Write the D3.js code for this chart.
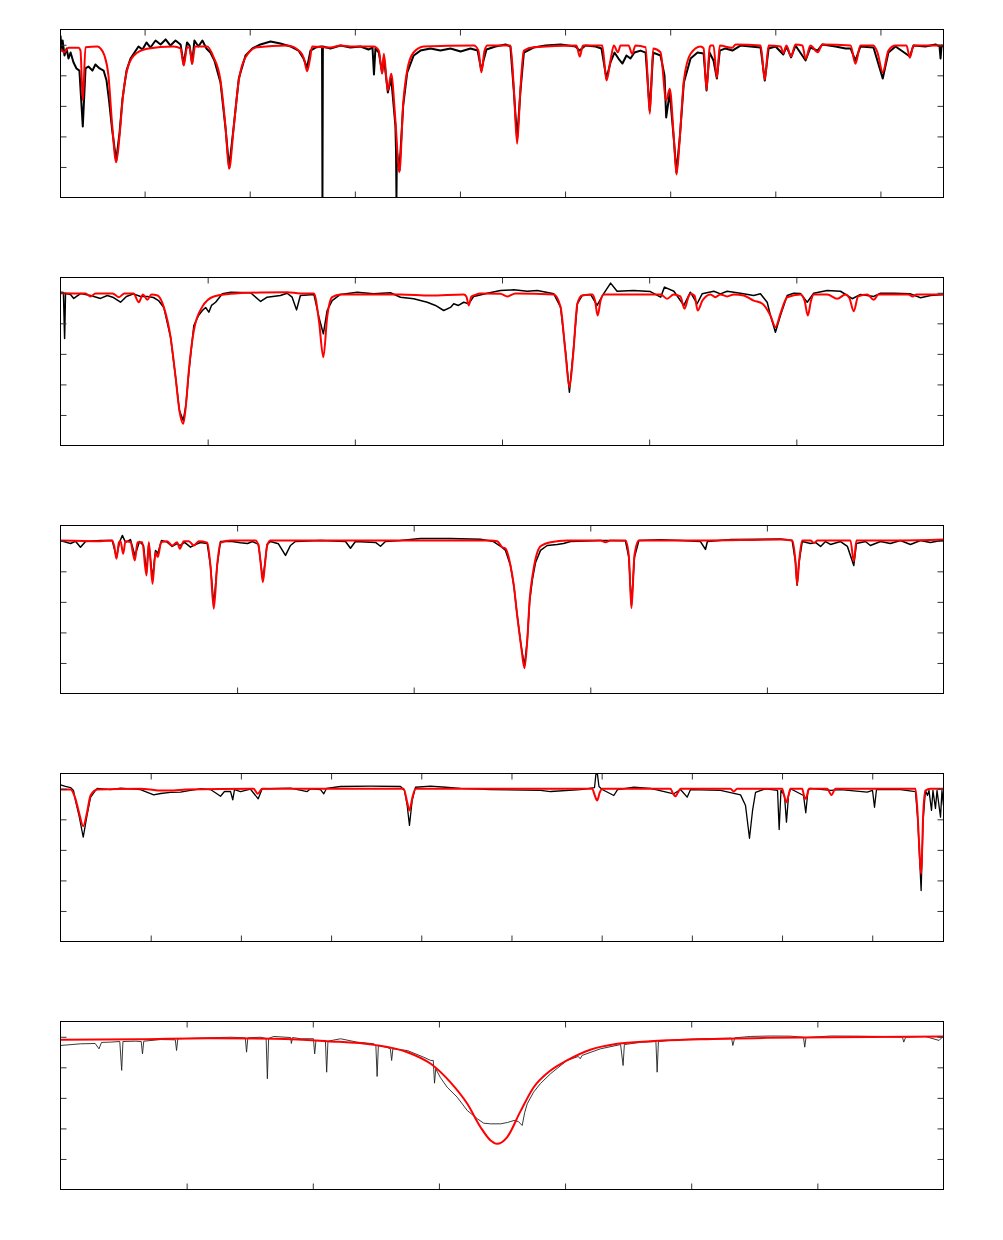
<!DOCTYPE html>
<html>
<head>
<meta charset="utf-8">
<script src="https://cdn.jsdelivr.net/npm/d3@7"></script>
<style>
  body { margin: 0; background: #fff; }
</style>
</head>
<body>
<div id="chart"></div>
<script>
//*** données : spectre observé (noir) et modèle (rouge), [longueur d'onde, flux normalisé] ***/

// panneau 1
const obs1 = [[3810.0,1.061],[3810.5,0.962],[3811.0,1.028],[3811.9,0.930],[3812.9,0.976],[3813.8,0.910],[3814.8,0.949],[3816.2,0.884],[3817.6,0.845],[3819.0,0.831],[3820.6,0.465],[3821.9,0.845],[3823.3,0.858],[3825.2,0.831],[3826.6,0.871],[3828.6,0.845],[3830.5,0.831],[3831.9,0.766],[3833.1,0.635],[3834.6,0.439],[3836.5,0.242],[3838.1,0.426],[3839.5,0.648],[3841.4,0.831],[3843.3,0.910],[3845.2,0.949],[3847.1,0.989],[3849.0,0.969],[3850.9,1.015],[3852.8,0.982],[3855.2,1.028],[3857.6,1.002],[3860.0,1.035],[3862.3,0.995],[3864.7,1.028],[3867.1,1.002],[3868.6,0.871],[3870.2,1.015],[3871.4,0.995],[3872.6,0.877],[3873.7,1.028],[3875.6,0.989],[3877.5,1.028],[3879.4,0.976],[3881.3,0.949],[3883.2,0.897],[3886.1,0.753],[3888.5,0.452],[3890.2,0.196],[3892.4,0.465],[3894.8,0.779],[3898.0,0.930],[3901.3,0.976],[3905.1,1.002],[3909.9,1.021],[3914.6,1.008],[3919.4,0.989],[3923.2,0.962],[3925.6,0.910],[3927.3,0.851],[3928.9,0.962],[3931.3,0.982],[3933.7,0.989],[3934.4,0.989],[3934.6,0.0],[3934.8,0.989],[3938.4,0.976],[3943.2,0.995],[3947.9,0.982],[3952.7,0.989],[3956.5,0.969],[3958.4,0.982],[3959.1,0.805],[3959.8,0.976],[3961.4,0.949],[3963.0,0.818],[3963.8,0.917],[3965.7,0.688],[3967.3,0.779],[3969.3,0.471],[3969.6,0.3],[3969.8,0.0],[3970.0,0.3],[3971.2,0.177],[3973.0,0.602],[3974.9,0.818],[3978.0,0.930],[3981.2,0.962],[3986.0,0.976],[3990.7,0.962],[3995.5,0.976],[4000.3,0.956],[4005.0,0.976],[4008.4,0.962],[4010.2,0.831],[4011.2,0.897],[4012.6,0.969],[4016.9,0.989],[4021.7,1.002],[4024.0,0.989],[4025.6,0.701],[4027.2,0.386],[4028.8,0.701],[4030.4,0.949],[4035.0,0.982],[4040.7,0.995],[4047.9,1.002],[4055.0,0.989],[4056.9,0.962],[4059.7,0.995],[4064.5,0.989],[4067.3,0.976],[4069.7,0.779],[4071.6,0.884],[4073.5,0.949],[4075.4,0.910],[4077.3,0.877],[4079.2,0.930],[4081.1,0.910],[4083.0,0.949],[4085.9,0.962],[4088.3,0.949],[4090.3,0.569],[4091.9,0.949],[4095.4,0.930],[4097.3,0.799],[4098.1,0.524],[4099.8,0.688],[4101.7,0.386],[4103.0,0.164],[4104.6,0.399],[4106.5,0.753],[4109.7,0.910],[4113.0,0.949],[4115.9,0.943],[4117.3,0.701],[4118.7,0.949],[4120.6,0.897],[4122.2,0.779],[4123.6,0.962],[4126.3,0.976],[4129.6,0.962],[4133.4,0.995],[4138.2,0.989],[4143.0,0.982],[4145.0,0.766],[4146.8,0.976],[4150.1,0.989],[4153.8,0.936],[4155.3,0.989],[4157.5,0.917],[4159.6,0.995],[4164.4,0.897],[4166.7,0.982],[4170.1,0.962],[4172.4,1.002],[4178.6,0.989],[4183.4,0.976],[4185.8,0.976],[4188.1,0.897],[4190.5,0.989],[4196.7,0.982],[4201.1,0.779],[4203.8,0.949],[4207.2,0.989],[4214.0,0.923],[4215.7,0.995],[4221.4,0.989],[4226.2,1.002],[4228.1,0.989],[4228.6,0.910],[4229.1,0.995],[4230.0,0.989]];
const mod1 = [[3810.0,0.974],[3811.9,0.951],[3813.8,0.980],[3818.6,0.980],[3819.5,0.962],[3820.6,0.635],[3821.9,0.984],[3827.6,0.989],[3829.0,0.976],[3830.9,0.930],[3832.8,0.799],[3834.6,0.471],[3836.5,0.231],[3838.1,0.406],[3839.5,0.635],[3841.4,0.818],[3844.9,0.930],[3851.2,0.974],[3863.7,0.989],[3867.1,0.976],[3868.6,0.864],[3870.2,0.982],[3871.4,0.982],[3872.6,0.875],[3874.0,0.989],[3879.8,0.989],[3882.8,0.919],[3886.1,0.766],[3888.5,0.460],[3890.2,0.188],[3892.4,0.460],[3894.8,0.766],[3898.0,0.919],[3903.6,0.984],[3917.8,0.995],[3924.2,0.951],[3925.8,0.910],[3927.3,0.827],[3928.7,0.910],[3929.7,0.989],[3938.4,0.982],[3943.2,0.995],[3947.9,0.989],[3959.0,0.989],[3961.4,0.962],[3963.0,0.810],[3963.8,0.941],[3965.7,0.701],[3967.3,0.810],[3969.3,0.504],[3971.2,0.166],[3973.0,0.614],[3974.9,0.832],[3978.0,0.951],[3982.8,0.989],[4006.6,0.995],[4008.8,0.962],[4010.2,0.820],[4011.7,0.962],[4013.1,0.995],[4024.0,0.995],[4025.6,0.722],[4027.2,0.352],[4028.8,0.722],[4030.4,0.962],[4035.1,0.984],[4055.4,0.995],[4057.0,0.923],[4058.5,0.995],[4067.7,0.995],[4069.7,0.766],[4071.6,0.897],[4073.2,0.995],[4075.1,0.951],[4076.4,0.995],[4080.2,0.995],[4081.9,0.941],[4083.5,0.995],[4088.3,0.984],[4090.3,0.548],[4091.9,0.976],[4095.4,0.951],[4098.1,0.635],[4099.8,0.712],[4101.7,0.395],[4103.0,0.151],[4104.6,0.395],[4106.5,0.766],[4109.7,0.941],[4114.4,0.989],[4115.9,0.976],[4117.3,0.705],[4118.7,0.976],[4119.2,0.995],[4120.6,0.995],[4122.2,0.784],[4123.6,0.995],[4129.5,0.980],[4131.2,1.002],[4143.0,0.995],[4145.0,0.771],[4146.8,0.995],[4152.5,0.989],[4153.8,0.945],[4155.3,0.995],[4157.5,0.923],[4159.6,1.002],[4162.9,0.995],[4164.4,0.908],[4166.7,0.995],[4170.2,0.951],[4172.4,1.002],[4185.8,0.995],[4188.1,0.875],[4190.5,0.995],[4196.7,0.995],[4198.6,0.949],[4201.1,0.820],[4203.8,0.962],[4207.2,0.995],[4212.4,0.995],[4214.0,0.915],[4215.7,0.995],[4230.0,0.995]];

// panneau 2
const obs2 = [[4300.0,1.004],[4301.0,1.002],[4301.4,0.701],[4301.7,0.995],[4303.4,0.989],[4304.5,0.963],[4306.8,0.995],[4310.2,0.982],[4313.6,0.963],[4315.9,0.982],[4318.0,0.969],[4320.4,0.938],[4322.4,0.976],[4324.8,0.993],[4327.2,0.976],[4329.5,0.976],[4331.6,0.969],[4333.3,0.949],[4335.1,0.904],[4337.4,0.709],[4339.1,0.447],[4340.4,0.229],[4341.7,0.164],[4342.6,0.262],[4343.6,0.478],[4345.3,0.786],[4346.9,0.851],[4348.2,0.884],[4349.3,0.904],[4350.4,0.873],[4351.3,0.917],[4352.7,0.938],[4355.0,0.993],[4357.8,1.004],[4364.6,1.000],[4368.0,0.943],[4370.2,0.971],[4374.7,0.982],[4377.0,0.997],[4378.7,0.971],[4380.2,0.888],[4381.5,0.982],[4386.1,0.989],[4387.8,0.840],[4389.3,0.731],[4390.6,0.884],[4392.3,0.949],[4395.1,0.989],[4400.8,1.004],[4406.3,0.993],[4412.1,1.000],[4415.5,0.971],[4420.0,0.961],[4424.6,0.938],[4427.4,0.917],[4430.2,0.884],[4432.5,0.904],[4433.6,0.928],[4435.2,0.917],[4437.0,0.938],[4438.7,0.928],[4440.4,0.976],[4445.0,0.997],[4449.5,1.015],[4454.0,1.019],[4458.6,1.010],[4462.0,1.015],[4467.6,0.993],[4469.9,0.906],[4471.6,0.615],[4472.9,0.349],[4474.2,0.615],[4475.6,0.928],[4477.2,0.982],[4480.1,0.989],[4482.3,0.917],[4484.5,0.993],[4486.9,1.063],[4489.1,1.010],[4494.7,1.015],[4500.4,1.008],[4503.9,0.971],[4505.2,1.037],[4508.4,1.010],[4511.8,0.917],[4514.0,1.004],[4516.3,0.928],[4518.0,0.993],[4522.0,1.010],[4524.2,0.993],[4526.5,1.010],[4531.0,0.997],[4535.5,0.982],[4537.8,0.993],[4540.1,0.938],[4541.2,0.851],[4542.9,0.742],[4544.6,0.851],[4546.9,0.982],[4549.1,0.997],[4551.4,0.995],[4553.7,0.938],[4555.9,0.997],[4560.5,1.015],[4565.0,1.010],[4569.0,0.961],[4571.8,0.989],[4576.3,0.976],[4578.6,0.997],[4583.1,0.997],[4588.8,0.993],[4592.2,0.967],[4595.6,0.982],[4600.0,0.989]];
const mod2 = [[4300.0,0.997],[4308.5,0.995],[4310.2,0.976],[4311.9,0.995],[4317.7,0.995],[4319.8,0.971],[4321.7,0.995],[4324.8,0.995],[4326.6,0.938],[4328.0,0.989],[4329.5,0.954],[4330.9,0.989],[4333.0,0.982],[4335.1,0.906],[4337.4,0.709],[4339.1,0.447],[4340.4,0.229],[4341.7,0.142],[4342.6,0.262],[4343.6,0.491],[4345.3,0.753],[4348.1,0.906],[4352.1,0.976],[4357.8,0.993],[4368.0,1.002],[4377.0,1.004],[4381.5,0.995],[4386.1,0.995],[4387.8,0.818],[4389.3,0.578],[4390.6,0.840],[4392.3,0.971],[4395.1,0.989],[4415.5,0.989],[4425.7,0.982],[4437.0,0.989],[4437.9,0.976],[4438.7,0.917],[4439.6,0.976],[4440.4,0.982],[4442.7,0.995],[4449.5,0.993],[4451.8,0.976],[4454.6,0.995],[4467.6,0.989],[4469.9,0.906],[4471.6,0.600],[4472.9,0.382],[4474.2,0.600],[4475.6,0.928],[4477.2,0.982],[4480.7,0.989],[4481.6,0.949],[4482.5,0.851],[4483.5,0.949],[4484.5,0.989],[4503.9,0.989],[4506.1,0.961],[4508.3,0.989],[4510.6,0.976],[4512.0,0.895],[4513.4,0.976],[4514.0,0.993],[4515.4,0.982],[4516.5,0.884],[4518.1,0.949],[4520.8,0.989],[4522.5,0.971],[4524.2,0.989],[4526.5,0.976],[4528.8,0.989],[4532.1,0.982],[4535.5,0.949],[4538.5,0.928],[4541.2,0.851],[4542.9,0.775],[4544.6,0.864],[4546.9,0.971],[4551.4,0.989],[4552.8,0.949],[4553.9,0.851],[4555.0,0.949],[4555.9,0.989],[4560.5,0.989],[4563.9,0.961],[4566.7,0.989],[4568.1,0.962],[4569.5,0.879],[4571.0,0.976],[4574.1,0.989],[4576.3,0.954],[4577.9,0.989],[4588.1,0.989],[4589.5,0.976],[4590.8,0.989],[4600.0,0.989]];

// panneau 3
const obs3 = [[4600.0,1.002],[4602.8,0.991],[4605.7,0.982],[4608.5,0.997],[4611.3,0.958],[4614.2,0.995],[4622.7,1.002],[4629.3,1.002],[4631.7,0.891],[4633.4,0.990],[4635.0,1.035],[4636.8,0.990],[4639.6,1.008],[4642.1,0.904],[4643.4,0.947],[4644.7,0.995],[4647.0,0.969],[4648.7,0.792],[4650.0,0.982],[4652.1,0.753],[4653.8,0.937],[4655.1,0.917],[4657.2,1.002],[4660.4,0.991],[4663.2,0.963],[4666.0,0.982],[4667.6,0.969],[4670.3,0.989],[4673.6,0.958],[4676.4,0.976],[4679.2,0.989],[4683.1,0.982],[4684.9,0.838],[4686.8,0.576],[4688.7,0.838],[4690.6,0.995],[4696.3,0.997],[4701.9,0.987],[4705.9,0.982],[4708.7,0.995],[4712.1,0.976],[4714.6,0.740],[4717.0,0.976],[4718.9,0.995],[4723.4,0.980],[4727.4,0.904],[4730.2,0.969],[4733.0,0.995],[4747.2,1.002],[4761.4,0.995],[4764.2,0.951],[4767.0,0.995],[4778.4,0.989],[4781.2,0.964],[4784.0,0.995],[4792.5,1.002],[4803.9,1.015],[4820.8,1.015],[4837.8,1.010],[4845.2,0.995],[4850.1,0.956],[4852.0,0.937],[4854.8,0.838],[4856.7,0.707],[4858.6,0.511],[4860.8,0.314],[4862.7,0.183],[4864.3,0.347],[4865.7,0.608],[4867.3,0.753],[4869.0,0.858],[4871.8,0.937],[4875.6,0.969],[4881.2,0.976],[4884.8,0.982],[4888.8,0.995],[4905.8,1.002],[4908.6,1.002],[4919.9,1.000],[4921.8,0.891],[4923.3,0.576],[4925.0,0.891],[4927.5,1.002],[4939.9,1.006],[4951.2,1.002],[4962.4,0.995],[4965.2,0.943],[4966.3,0.995],[4979.9,1.008],[4996.4,1.010],[5007.7,1.012],[5014.3,1.002],[5016.2,0.858],[5017.1,0.709],[5018.2,0.858],[5020.0,0.995],[5024.7,0.982],[5027.5,0.989],[5030.4,0.963],[5033.2,0.995],[5036.0,0.976],[5041.7,0.995],[5045.6,0.963],[5049.2,0.838],[5050.7,0.982],[5055.8,0.995],[5058.6,0.969],[5064.3,0.995],[5069.9,0.982],[5075.6,1.002],[5081.3,0.976],[5086.9,1.002],[5092.6,0.989],[5100.0,1.005]];
const mod3 = [[4600.0,1.002],[4622.7,0.997],[4629.3,1.002],[4630.6,0.956],[4631.7,0.882],[4633.1,0.990],[4634.0,0.997],[4635.5,0.915],[4636.8,0.997],[4639.6,0.991],[4642.1,0.871],[4643.6,0.990],[4646.3,0.991],[4648.7,0.773],[4650.0,0.991],[4652.1,0.718],[4653.8,0.925],[4655.1,0.893],[4657.0,0.991],[4660.4,0.997],[4663.2,0.969],[4666.0,0.991],[4667.6,0.947],[4669.8,0.997],[4672.7,0.997],[4675.5,0.969],[4678.3,0.997],[4683.1,0.988],[4684.9,0.838],[4686.8,0.555],[4688.7,0.838],[4690.6,0.987],[4696.3,1.002],[4710.4,1.002],[4712.1,0.969],[4713.5,0.838],[4714.6,0.729],[4715.7,0.838],[4717.0,0.969],[4718.9,1.002],[4764.2,1.002],[4820.8,1.002],[4843.5,1.002],[4847.3,0.997],[4850.1,0.958],[4852.0,0.949],[4854.8,0.838],[4856.7,0.707],[4858.6,0.511],[4860.8,0.314],[4862.7,0.166],[4864.3,0.347],[4865.7,0.620],[4867.3,0.773],[4869.0,0.882],[4871.8,0.964],[4877.5,0.991],[4886.9,1.002],[4905.8,1.002],[4908.6,0.991],[4911.4,1.002],[4919.9,1.002],[4921.8,0.904],[4923.3,0.559],[4925.0,0.904],[4927.5,1.002],[4962.4,1.002],[5007.7,1.008],[5014.3,1.002],[5016.2,0.860],[5017.1,0.712],[5018.2,0.860],[5020.0,1.002],[5024.7,1.002],[5026.6,0.987],[5028.7,1.002],[5047.3,1.002],[5049.2,0.864],[5050.7,1.002],[5075.7,1.002],[5100.0,1.008]];

// panneau 4
const obs4 = [[5400.0,1.026],[5405.5,1.015],[5411.1,1.008],[5414.4,0.989],[5416.6,0.923],[5420.5,0.825],[5425.2,0.683],[5429.4,0.825],[5433.3,0.943],[5438.8,0.989],[5440.7,1.002],[5455.4,0.995],[5466.5,1.004],[5488.7,0.995],[5494.2,0.982],[5503.4,0.960],[5510.9,0.969],[5522.0,0.976],[5533.0,0.978],[5544.1,0.989],[5555.2,1.000],[5566.3,0.995],[5573.0,0.969],[5577.4,0.951],[5581.8,0.982],[5588.5,0.982],[5591.0,0.928],[5592.9,0.995],[5599.6,0.982],[5610.7,0.997],[5619.2,0.934],[5623.6,1.000],[5632.8,1.000],[5655.0,1.004],[5673.5,0.982],[5677.2,1.000],[5688.3,0.995],[5691.9,0.967],[5694.9,1.002],[5710.4,1.015],[5743.7,1.017],[5777.0,1.015],[5781.4,0.989],[5784.4,0.890],[5786.9,0.760],[5789.9,0.923],[5793.6,1.010],[5810.2,1.017],[5826.9,1.010],[5843.5,1.002],[5876.7,0.995],[5932.2,0.989],[5943.3,0.982],[5976.5,0.995],[5992.1,1.008],[5993.7,1.100],[5995.4,1.093],[5997.0,1.015],[6000.6,0.995],[6013.5,0.956],[6017.6,0.995],[6035.6,1.010],[6054.1,1.002],[6080.0,0.967],[6087.4,0.995],[6094.8,0.945],[6098.5,0.995],[6131.8,0.989],[6154.0,0.960],[6159.5,0.890],[6163.9,0.676],[6167.3,0.858],[6170.6,0.976],[6181.6,1.000],[6195.0,0.989],[6196.8,0.733],[6198.8,0.989],[6202.7,0.956],[6204.9,0.781],[6207.2,0.956],[6209.4,1.000],[6223.8,0.956],[6226.3,0.843],[6228.8,0.989],[6231.5,1.002],[6253.7,0.989],[6264.8,0.995],[6294.4,0.978],[6300.3,0.989],[6302.5,0.879],[6304.7,0.995],[6331.3,0.995],[6347.9,0.982],[6350.5,0.792],[6354.2,0.334],[6356.4,0.792],[6359.0,0.989],[6361.2,0.956],[6362.9,0.989],[6365.7,0.858],[6367.3,0.989],[6370.1,0.871],[6371.8,0.989],[6375.7,0.814],[6377.3,0.989],[6379.0,0.890]];
const mod4 = [[5400.0,0.995],[5411.1,0.995],[5416.6,0.934],[5420.5,0.845],[5425.2,0.755],[5429.4,0.845],[5433.3,0.956],[5440.7,0.995],[5488.7,1.000],[5499.8,0.995],[5510.9,0.989],[5525.3,0.989],[5538.6,0.995],[5614.0,1.000],[5618.7,0.967],[5623.6,1.000],[5780.3,1.000],[5784.4,0.912],[5786.9,0.858],[5789.9,0.936],[5793.6,1.000],[5887.8,1.000],[5989.5,1.000],[5992.4,0.956],[5995.0,0.923],[5997.9,0.976],[6000.6,1.000],[6076.3,1.000],[6079.1,0.969],[6081.8,0.951],[6084.6,0.976],[6087.4,1.000],[6142.8,1.000],[6146.5,0.982],[6150.2,1.000],[6200.1,1.000],[6202.7,0.945],[6204.9,0.912],[6207.1,0.956],[6209.3,1.000],[6222.3,1.000],[6224.8,0.945],[6226.3,0.934],[6228.2,0.969],[6229.6,1.000],[6250.0,1.000],[6254.8,0.960],[6259.2,1.000],[6347.9,1.000],[6350.4,0.825],[6352.3,0.595],[6354.2,0.443],[6355.3,0.595],[6356.4,0.825],[6359.0,0.989],[6364.5,1.000],[6379.0,1.000]];

// panneau 5
const obs5 = [[6490.0,0.943],[6493.2,0.954],[6495.5,0.956],[6496.1,0.921],[6496.5,0.963],[6497.9,0.965],[6499.4,0.969],[6499.7,0.780],[6499.9,0.969],[6501.9,0.971],[6502.8,0.969],[6503.0,0.888],[6503.2,0.971],[6505.9,0.982],[6508.2,0.980],[6508.4,0.910],[6508.6,0.987],[6513.3,0.993],[6517.0,0.997],[6519.3,0.993],[6519.5,0.899],[6519.7,0.993],[6521.7,0.997],[6522.6,0.989],[6522.8,0.725],[6523.0,0.989],[6523.8,1.002],[6526.5,0.995],[6526.6,0.956],[6526.8,0.995],[6528.1,0.987],[6530.1,0.987],[6530.3,0.888],[6530.5,0.976],[6532.0,0.976],[6532.2,0.768],[6532.4,0.971],[6534.4,0.987],[6537.0,0.965],[6539.7,0.954],[6540.0,0.943],[6540.2,0.740],[6540.4,0.943],[6541.8,0.930],[6542.3,0.921],[6542.5,0.845],[6542.7,0.921],[6545.0,0.910],[6547.6,0.866],[6548.7,0.845],[6549.1,0.845],[6549.3,0.696],[6549.5,0.790],[6550.2,0.735],[6551.3,0.670],[6552.9,0.604],[6554.5,0.517],[6556.1,0.463],[6557.1,0.434],[6558.2,0.430],[6559.8,0.430],[6560.9,0.439],[6561.9,0.452],[6562.6,0.445],[6563.2,0.419],[6563.6,0.504],[6564.0,0.561],[6565.0,0.637],[6566.1,0.694],[6567.7,0.758],[6570.3,0.845],[6572.1,0.871],[6572.4,0.856],[6572.7,0.878],[6575.6,0.921],[6578.8,0.949],[6579.2,0.812],[6579.4,0.949],[6582.0,0.964],[6584.4,0.969],[6584.6,0.768],[6584.8,0.969],[6588.3,0.982],[6591.5,0.987],[6596.4,0.991],[6596.6,0.943],[6596.9,0.993],[6599.4,1.002],[6602.6,1.005],[6605.7,1.004],[6607.8,0.997],[6608.0,0.932],[6608.2,0.995],[6612.1,1.005],[6616.8,1.004],[6620.0,1.002],[6623.5,0.997],[6623.7,0.965],[6624.0,0.997],[6627.1,1.002],[6629.3,0.976],[6630.0,1.005]];
const mod5 = [[6490.0,0.980],[6502.7,0.984],[6513.3,0.991],[6523.8,0.987],[6532.3,0.971],[6539.7,0.947],[6545.0,0.899],[6548.7,0.823],[6551.8,0.703],[6554.5,0.561],[6556.6,0.408],[6558.2,0.321],[6559.2,0.299],[6560.8,0.342],[6562.9,0.510],[6565.0,0.668],[6567.7,0.779],[6570.3,0.845],[6574.0,0.915],[6578.3,0.954],[6583.5,0.971],[6591.5,0.984],[6602.0,0.993],[6612.6,0.997],[6630.0,1.002]];

// domaines et graduations
const xDomaines = [[3810, 4230], [4300, 4600], [4600, 5100], [5400, 6379], [6490, 6630]];
const xGraduations = [
  [3850, 3900, 3950, 4000, 4050, 4100, 4150, 4200],
  [4350, 4400, 4450, 4500, 4550],
  [4700, 4800, 4900, 5000],
  [5500, 5600, 5700, 5800, 5900, 6000, 6100, 6200, 6300],
  [6510, 6530, 6550, 6570, 6590, 6610]
];
const yDomaine = [0, 1.1];
const yGraduations = [0.2, 0.4, 0.6, 0.8, 1.0];

//*** mise en page ***/
const largeur = 1003, hauteur = 1240;
const gauche = 60, largeurCadre = 883, hauteurCadre = 168;
const hauts = [29, 277, 525, 773, 1021];
// spectres bruités : trait plus épais en haut
const epaisseurObs = [2.0, 1.5, 1.5, 1.3, 0.9];

const panneaux = [
  { obs: obs1, mod: mod1 },
  { obs: obs2, mod: mod2 },
  { obs: obs3, mod: mod3 },
  { obs: obs4, mod: mod4 },
  { obs: obs5, mod: mod5 }
];

const svg = d3.select("#chart")
  .append("svg")
  .attr("width", largeur)
  .attr("height", hauteur)
  .style("display", "block");

panneaux.forEach((p, i) => {
  const g = svg.append("g")
    .attr("transform", `translate(${gauche + 0.5},${hauts[i] + 0.5})`);

  const x = d3.scaleLinear().domain(xDomaines[i]).range([0, largeurCadre]);
  const y = d3.scaleLinear().domain(yDomaine).range([hauteurCadre, 0]);

  // découpe pour rester dans le cadre
  g.append("clipPath").attr("id", "clip" + i)
    .append("rect").attr("width", largeurCadre).attr("height", hauteurCadre);

  const ligne = d3.line().x(d => x(d[0])).y(d => y(d[1]));
  const ligneLisse = d3.line().x(d => x(d[0])).y(d => y(d[1])).curve(d3.curveMonotoneX);

  const traces = g.append("g").attr("clip-path", `url(#clip${i})`);
  // spectre observé
  traces.append("path")
    .datum(p.obs)
    .attr("d", ligne)
    .attr("fill", "none")
    .attr("stroke", i === 4 ? "#222" : "#000")
    .attr("stroke-width", epaisseurObs[i])
    .attr("stroke-linejoin", "round");
  // modèle
  traces.append("path")
    .datum(p.mod)
    .attr("d", ligneLisse)
    .attr("fill", "none")
    .attr("stroke", "#ff0000")
    .attr("stroke-width", 2)
    .attr("stroke-linejoin", "round");

  // graduations vers l'intérieur sur les quatre côtés
  const styleAxe = sel => {
    sel.select(".domain").remove();
    sel.selectAll(".tick line").attr("stroke", "#333");
  };
  g.append("g").attr("transform", `translate(0,${hauteurCadre})`)
    .call(d3.axisBottom(x).tickValues(xGraduations[i]).tickSize(-6).tickFormat(""))
    .call(styleAxe);
  g.append("g")
    .call(d3.axisTop(x).tickValues(xGraduations[i]).tickSize(-6).tickFormat(""))
    .call(styleAxe);
  g.append("g")
    .call(d3.axisLeft(y).tickValues(yGraduations).tickSize(-6).tickFormat(""))
    .call(styleAxe);
  g.append("g").attr("transform", `translate(${largeurCadre},0)`)
    .call(d3.axisRight(y).tickValues(yGraduations).tickSize(-6).tickFormat(""))
    .call(styleAxe);

  // cadre
  g.append("rect")
    .attr("width", largeurCadre)
    .attr("height", hauteurCadre)
    .attr("fill", "none")
    .attr("stroke", "#000")
    .attr("stroke-width", 1);
});
</script>
</body>
</html>
